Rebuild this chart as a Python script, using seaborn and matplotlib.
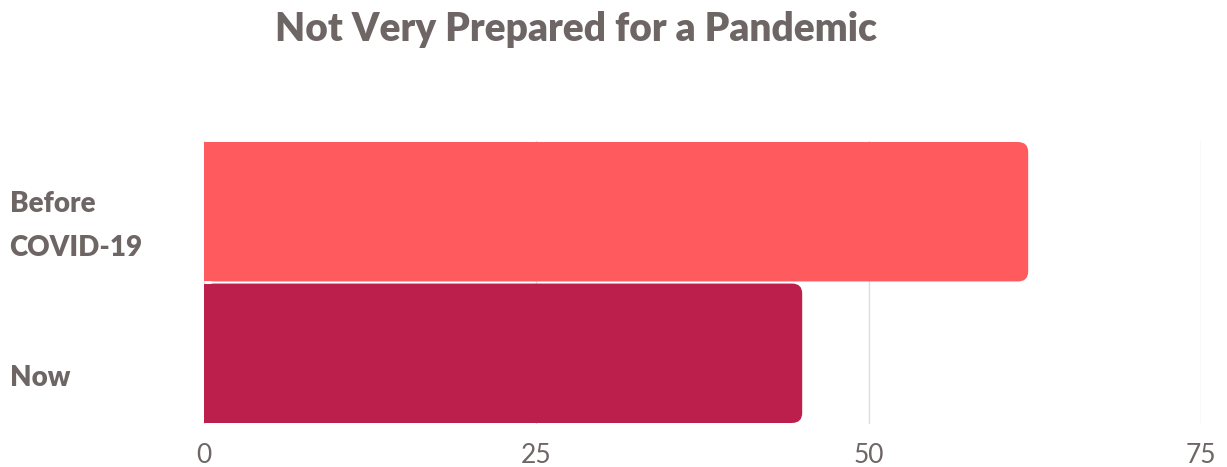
import matplotlib
matplotlib.use("Agg")
import matplotlib.pyplot as plt
import matplotlib.transforms as mtransforms
from matplotlib.patches import FancyBboxPatch
import seaborn as sns
import pandas as pd

# Share of people who say they are not very prepared for a pandemic
periods = ["Before\nCOVID-19", "Now"]
values = [62, 45]
bar_colors = ["#FF5A5E", "#BC1F4C"]
x_ticks = [0, 25, 50, 75]
title = "Not Very Prepared for a Pandemic"

text_color = "#6E6665"
grid_color = "#DDDDDD"

sns.set_theme(style="white")
plt.rcParams["font.family"] = ["Lato", "DejaVu Sans"]

df = pd.DataFrame({"period": periods, "value": values})

W, H, DPI = 1227, 467, 100
fig = plt.figure(figsize=(W / DPI, H / DPI), dpi=DPI)
ax = fig.add_axes([204 / W, 1 - 424 / H, (1201 - 204) / W, (424 - 141) / H])

sns.barplot(data=df, x="value", y="period", hue="period", palette=bar_colors,
            orient="h", width=0.985, legend=False, ax=ax, zorder=2,
            linewidth=0, saturation=1)

ax.set_xlim(0, 75)
ax.set_ylim(1.5, -0.5)

# rounded right-hand ends on each bar
px_x = 75 / (1201 - 204)
px_y = 2 / (424 - 141)
radius_px = 10
r = radius_px * px_x
for patch, color in zip(ax.patches[:len(values)], bar_colors):
    x0, y0 = patch.get_x(), patch.get_y()
    w, h = patch.get_width(), patch.get_height()
    patch.set_width(w - r)
    rounded = FancyBboxPatch((x0, y0), w, h,
                             boxstyle=f"round,pad=0,rounding_size={r}",
                             mutation_aspect=px_y / px_x,
                             facecolor=color, edgecolor="none", zorder=2)
    ax.add_patch(rounded)

ax.set_xticks(x_ticks)
ax.set_xticklabels([str(t) for t in x_ticks])
ax.grid(axis="x", color=grid_color, linewidth=1)
ax.grid(axis="y", visible=False)
ax.set_axisbelow(True)
for s in ax.spines.values():
    s.set_visible(False)
ax.set_xlabel("")
ax.set_ylabel("")

ax.tick_params(axis="x", length=0, pad=14, labelsize=19, labelcolor=text_color)
ax.tick_params(axis="y", length=0, pad=140, labelsize=20, labelcolor=text_color)
label_drop_px = [3, 22]
for lbl, drop in zip(ax.get_yticklabels(), label_drop_px):
    lbl.set_fontweight(800)
    lbl.set_horizontalalignment("left")
    lbl.set_linespacing(1.85)
    lbl.set_transform(lbl.get_transform() +
                      mtransforms.ScaledTranslation(0, -drop / DPI, fig.dpi_scale_trans))

fig.text(576 / W, 1 - 29 / H, title, ha="center", va="center",
         fontsize=28, fontweight=800, color=text_color)

fig.savefig("out.png", dpi=DPI, facecolor="white")
